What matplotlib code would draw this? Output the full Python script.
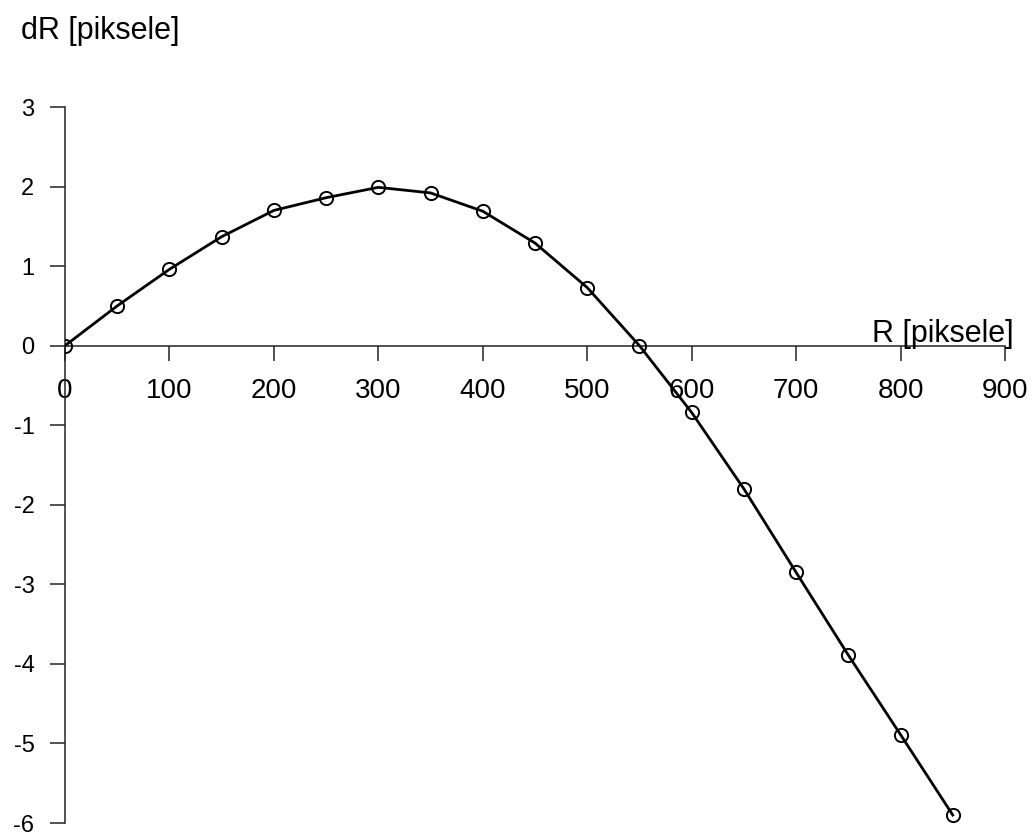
import matplotlib
matplotlib.use("Agg")
import matplotlib.pyplot as plt

plt.rcParams["font.family"] = ["Liberation Sans", "DejaVu Sans"]

# dane
R = [0, 50, 100, 150, 200, 250, 300, 350, 400, 450, 500, 550,
     600, 650, 700, 750, 800, 850]
dR = [0.0, 0.50, 0.96, 1.37, 1.70, 1.86, 1.99, 1.92, 1.69, 1.29, 0.73, 0.0,
      -0.84, -1.80, -2.85, -3.89, -4.89, -5.90]
x_ticks = [0, 100, 200, 300, 400, 500, 600, 700, 800, 900]
y_ticks = [-6, -5, -4, -3, -2, -1, 0, 1, 2, 3]

W, H = 1034, 834
fig = plt.figure(figsize=(W / 100, H / 100), dpi=100)
ax = fig.add_axes([65 / W, 1 - 823 / H, (1005 - 65) / W, (823 - 107) / H])

ax.plot(R, dR, color="black", linewidth=2.0, marker="o", markersize=9.5,
        markerfacecolor="none", markeredgecolor="black", markeredgewidth=1.4,
        zorder=3)

ax.set_xlim(0, 900)
ax.set_ylim(-6, 3)

ax.spines["top"].set_visible(False)
ax.spines["right"].set_visible(False)
ax.spines["left"].set_position(("data", 0))
ax.spines["bottom"].set_position(("data", 0))
for s in ("left", "bottom"):
    ax.spines[s].set_linewidth(1.1)
    ax.spines[s].set_color("#222222")

# zwykły łącznik zamiast znaku minus, jak w oryginale
ax.set_xticks(x_ticks)
ax.set_xticklabels([str(v) for v in x_ticks])
ax.set_yticks(y_ticks)
ax.set_yticklabels([str(v) for v in y_ticks])
ax.tick_params(axis="x", direction="out", length=11, width=1.1, pad=12,
               labelsize=20, colors="#222222", labelcolor="black")
ax.tick_params(axis="y", direction="out", length=11, width=1.1, pad=11,
               labelsize=17, colors="#222222", labelcolor="black")

fig.text(21 / W, 1 - 39 / H, "dR [piksele]", fontsize=22, ha="left",
         va="baseline")
fig.text(1014 / W, 1 - 342 / H, "R [piksele]", fontsize=22, ha="right",
         va="baseline")

fig.savefig("out.png", dpi=100)
